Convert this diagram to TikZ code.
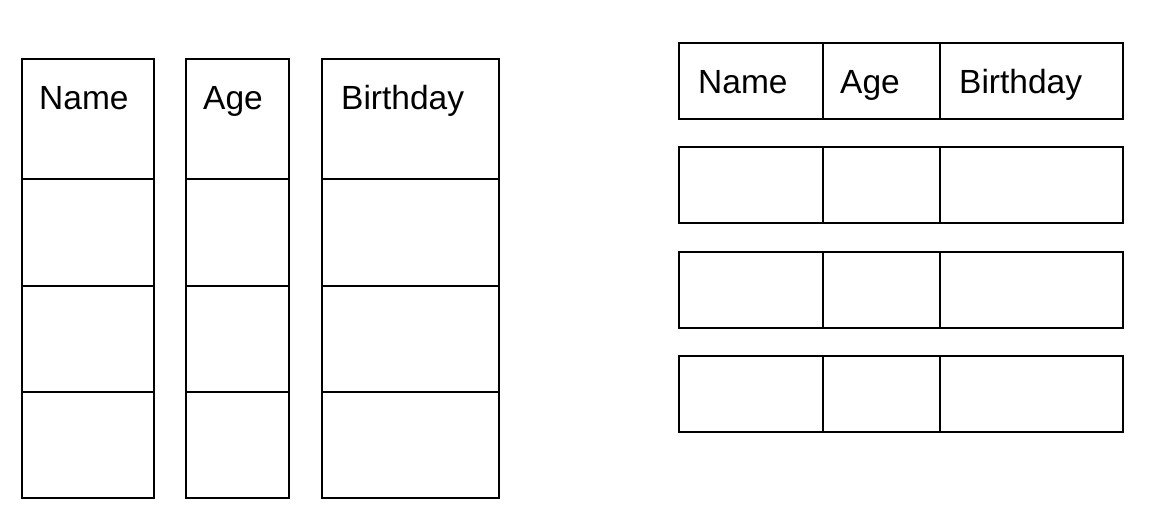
\documentclass[tikz,border=0pt]{standalone}
\usepackage{fontspec}
\setmainfont{Liberation Sans}
\begin{document}
\begin{tikzpicture}[x=1pt,y=-1pt,
  cell/.style={draw=black,line width=1.3pt},
  lbl/.style={anchor=base west,inner sep=0pt,font=\fontsize{33.5}{40}\selectfont}]
\useasboundingbox (0,0) rectangle (1156,522);
% left: column-oriented tables
\foreach \xa/\xb/\t/\tx in {22/154/Name/39, 186/289/Age/203, 322/499/Birthday/341}{
  \draw[cell] (\xa,59) rectangle (\xb,498);
  \foreach \yy in {179,286,392}{\draw[cell] (\xa,\yy) -- (\xb,\yy);}
  \node[lbl] (L\t) at (\tx,109) {\t};
}
% right: row-oriented tables
\foreach \ya [count=\i] in {43,147,252,356}{
  \draw[cell] (679,\ya) rectangle (1123,\ya+76);
  \draw[cell] (823,\ya) -- (823,\ya+76);
  \draw[cell] (940,\ya) -- (940,\ya+76);
}
\node[lbl] (RName) at (698,93) {Name};
\node[lbl] (RAge) at (840,93) {Age};
\node[lbl] (RBirthday) at (959,93) {Birthday};
\end{tikzpicture}
\end{document}
